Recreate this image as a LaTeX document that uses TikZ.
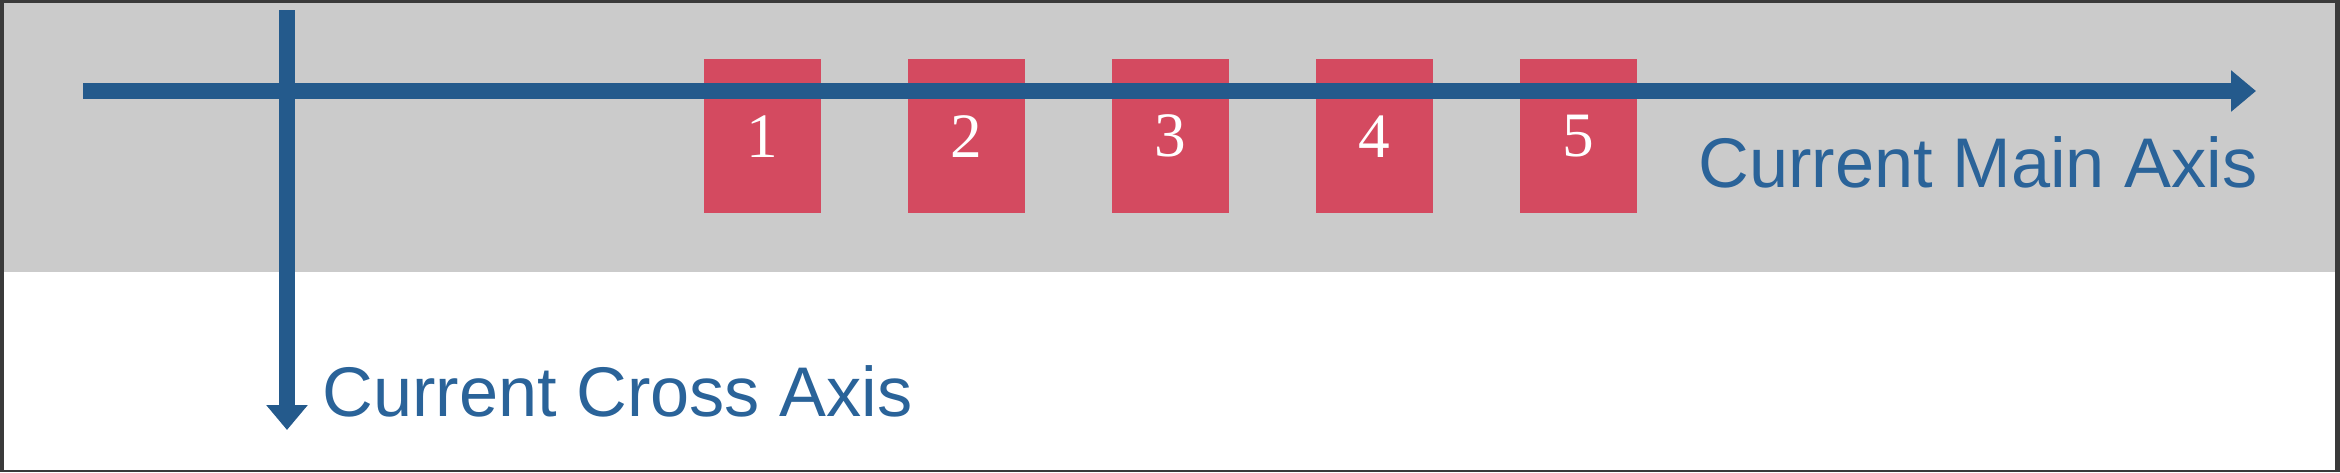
\documentclass[tikz,border=0pt]{standalone}
\usepackage{fontspec}
\setmainfont{Liberation Serif}
\setsansfont{Liberation Sans}
\usetikzlibrary{arrows.meta,positioning}
\definecolor{framegray}{HTML}{3A3A3A}
\definecolor{bandgray}{HTML}{CBCBCB}
\definecolor{itemred}{HTML}{D44A60}
\definecolor{axisblue}{HTML}{245A8C}
\definecolor{labelblue}{HTML}{2A6399}
\tikzset{
	item/.style={fill=itemred, text=white, inner sep=0pt, minimum width=1.17cm, minimum height=1.54cm, font=\fontsize{18}{20}\selectfont},
	axis/.style={axisblue, line width=0.16cm, -{Triangle[width=0.4cm,length=0.25cm]}},
	axislabel/.style={text=labelblue, inner sep=0pt, anchor=base west, font=\sffamily\fontsize{20}{24}\selectfont}
}
\begin{document}
\begin{tikzpicture}
	\useasboundingbox (0,0) rectangle (23.4,4.72);
	\fill[framegray] (0,0) rectangle (23.4,4.72);
	\fill[white] (0.04,0.02) rectangle (23.35,4.69);
	\fill[bandgray] (0.04,2.0) rectangle (23.35,4.69);
	% flex items
	\foreach \i in {1,...,5}
		\node[item] (item\i) at ({7.62+2.04*(\i-1)},3.357) {\i};
	% axes
	\coordinate (mainstart) at (0.83,3.81);
	\coordinate (mainend) at (22.56,3.81);
	\coordinate (crossstart) at (2.87,4.62);
	\coordinate (crossend) at (2.87,0.42);
	\draw[axis] (crossstart) -- (crossend);
	\draw[axis] (mainstart) -- (mainend);
	\node[axislabel] (mainlabel) at (16.98,2.85) {Current Main Axis};
	\node[axislabel] (crosslabel) at (3.22,0.56) {Current Cross Axis};
\end{tikzpicture}
\end{document}
